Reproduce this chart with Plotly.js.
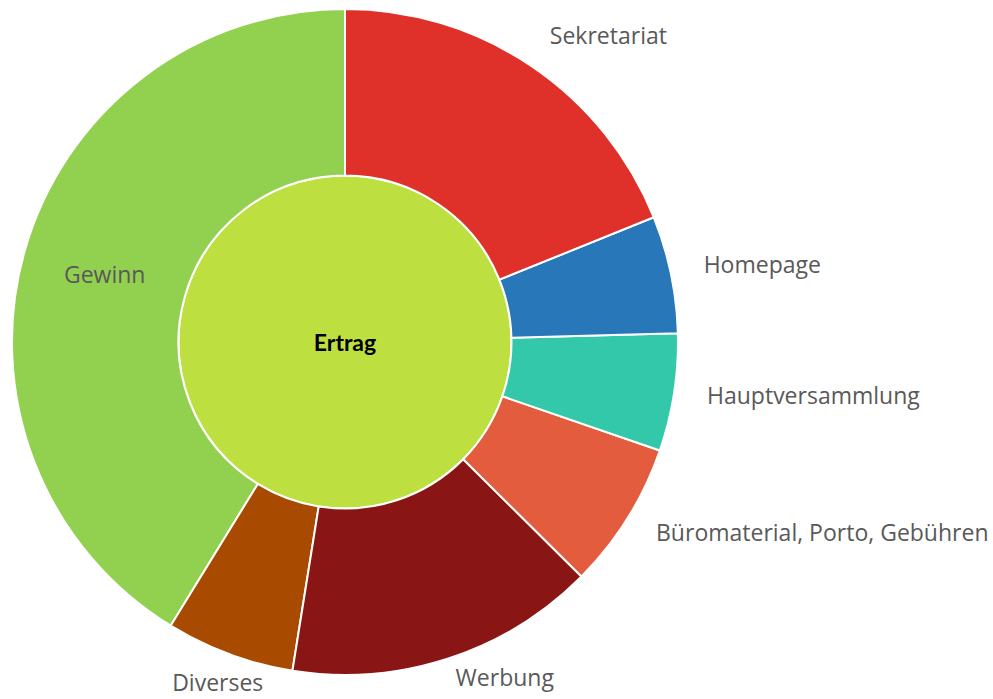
<!DOCTYPE html>
<html>
<head>
<meta charset="utf-8">
<script src="https://cdn.plot.ly/plotly-3.0.1.min.js"></script>
<style>html,body{margin:0;padding:0;background:#fff;}#chart{width:993px;height:699px;}</style>
</head>
<body>
<div id="chart"></div>
<script>
const rootLabel = 'Ertrag';
const categories = ['Sekretariat', 'Homepage', 'Hauptversammlung', 'Büromaterial, Porto, Gebühren', 'Werbung', 'Diverses', 'Gewinn'];
const values = [1890, 570, 570, 715, 1510, 625, 4125];
const colors = ['#e0302a', '#2777b9', '#33c8a9', '#e45c3e', '#891614', '#a84b00', '#92d050'];
const rootColor = '#bde040';

const W = 993, H = 699;
const cx = 345, cy = 342, R = 333;
const labelFont = 'Open Sans, sans-serif';
const labelColor = '#595959';

const total = values.reduce((a, b) => a + b, 0);
let cum = 0;
const midAngles = values.map(v => { const m = (cum + v / 2) / total * 360; cum += v; return m; });
// big slices carry their label inside (drawn by the sunburst), small ones outside
const insideLabel = values.map(v => v / total > 0.3);
const outIdx = categories.map((c, i) => i).filter(i => !insideLabel[i]);
const rad = a => a * Math.PI / 180;
const nearBottomRight = a => a > 140 && a < 180;
const labelR = outIdx.map(i => nearBottomRight(midAngles[i]) ? 1.07 : 1.1);
const labelX = outIdx.map((i, k) => labelR[k] * Math.sin(rad(midAngles[i])));
const labelY = outIdx.map((i, k) => labelR[k] * Math.cos(rad(midAngles[i])));
const labelPos = outIdx.map(i => midAngles[i] < 180 ? 'middle right' : 'middle center');

const domain = {x: [(cx - R) / W, (cx + R) / W], y: [1 - (cy + R) / H, 1 - (cy - R) / H]};

// sunburst draws counter-clockwise; feed children in reverse so they run clockwise from 12 o'clock
const rev = arr => arr.slice().reverse();
const revCats = rev(categories);
const revInside = rev(insideLabel);
const sun = {
  type: 'sunburst',
  ids: [rootLabel].concat(revCats),
  labels: [rootLabel].concat(revCats),
  parents: [''].concat(categories.map(() => rootLabel)),
  values: [0].concat(rev(values)),
  branchvalues: 'remainder',
  sort: false,
  rotation: 90,
  leaf: {opacity: 1},
  marker: {colors: [rootColor].concat(rev(colors)), line: {color: '#ffffff', width: 2}},
  texttemplate: ['<b>%{label}</b>'].concat(revInside.map(inside => inside ? '%{label}' : '')),
  textfont: {
    family: ['Lato, sans-serif'].concat(revCats.map(() => labelFont)),
    size: [23].concat(revCats.map(() => 23)),
    color: ['#000000'].concat(revCats.map(() => labelColor))
  },
  insidetextorientation: 'horizontal',
  hoverinfo: 'none',
  domain: domain
};

const lbl = {
  type: 'scatter',
  mode: 'text',
  x: labelX,
  y: labelY,
  text: outIdx.map(i => categories[i]),
  textposition: labelPos,
  textfont: {family: labelFont, size: 23, color: labelColor},
  cliponaxis: false,
  hoverinfo: 'none',
  showlegend: false
};

const layout = {
  width: W, height: H,
  margin: {l: 0, r: 0, t: 0, b: 0},
  paper_bgcolor: '#ffffff',
  plot_bgcolor: 'rgba(0,0,0,0)',
  showlegend: false,
  xaxis: {visible: false, range: [-cx / R, (W - cx) / R], domain: [0, 1], fixedrange: true},
  yaxis: {visible: false, range: [-(H - cy) / R, cy / R], domain: [0, 1], fixedrange: true}
};

Plotly.newPlot('chart', [sun, lbl], layout, {displayModeBar: false, staticPlot: true});
</script>
</body>
</html>
